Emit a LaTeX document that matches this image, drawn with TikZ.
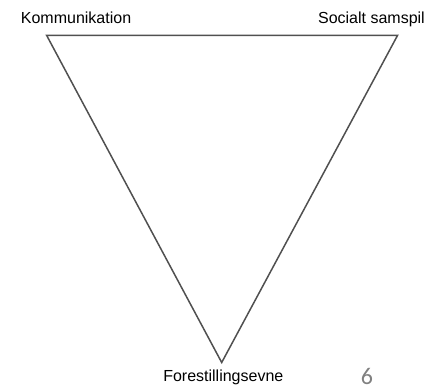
\documentclass[tikz,border=0pt]{standalone}
\usepackage{fontspec}
\setmainfont{Liberation Sans}
\newfontfamily\numfont{Carlito}
\definecolor{edgegray}{HTML}{505050}
\definecolor{pagegray}{HTML}{808080}
\begin{document}
\begin{tikzpicture}[x=1pt,y=-1pt,
  lbl/.style={inner sep=0pt,anchor=base,font=\fontsize{16}{18}\selectfont,text=black},
  edge/.style={draw=edgegray,line width=1.5pt,line join=miter}]
\useasboundingbox (0,0) rectangle (429,385);
\coordinate (tl) at (46.7,35.5);
\coordinate (tr) at (397.5,35.5);
\coordinate (bt) at (221.7,362.5);
\draw[edge] (tl) -- (tr) -- (bt) -- cycle;
\node[lbl,anchor=base west] (k) at (20.7,23.5) {Kommunikation};
\node[lbl,anchor=base east] (s) at (425,23.5) {Socialt samspil};
\node[lbl] (f) at (223.3,381.3) {Forestillingsevne};
\node[inner sep=0pt,anchor=base,font=\numfont\fontsize{24}{26}\selectfont,text=pagegray] (p) at (367,384.5) {6};
\end{tikzpicture}
\end{document}
